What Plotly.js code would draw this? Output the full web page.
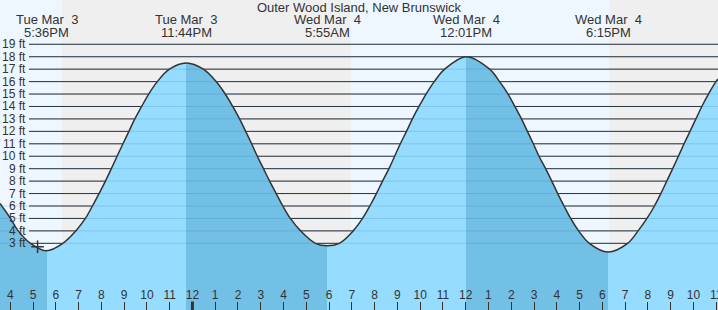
<!DOCTYPE html>
<html><head><meta charset="utf-8">
<script src="https://cdn.plot.ly/plotly-3.0.1.min.js"></script>
<style>html,body{margin:0;padding:0;background:#fff}#chart{width:718px;height:310px}</style>
</head><body><div id="chart"></div>
<script>
// ---- data (hours counted from Tue Mar 3, 00:00) ----
const titleText = 'Outer Wood Island, New Brunswick';
const tideTimes = [15.55, 16.01, 16.35, 16.89, 17.60, 18.31, 18.88, 19.30, 19.61, 19.90, 20.18, 20.44, 20.69, 20.95, 21.21, 21.47, 21.77, 22.08, 22.46, 22.99, 23.73,
  24.48, 25.04, 25.44, 25.77, 26.07, 26.34, 26.60, 26.85, 27.12, 27.39, 27.68, 27.97, 28.30, 28.75, 29.40, 29.92,
  30.45, 31.06, 31.47, 31.79, 32.08, 32.35, 32.63, 32.88, 33.13, 33.40, 33.66, 33.95, 34.26, 34.62, 35.08, 36.02,
  37.05, 37.49, 37.86, 38.16, 38.45, 38.71, 38.97, 39.22, 39.51, 39.78, 40.04, 40.32, 40.61, 40.96, 41.43, 42.25,
  43.11, 43.57, 43.96, 44.29, 44.57, 44.83, 45.09, 45.34, 45.59, 45.85, 46.11, 46.37, 46.66, 46.99, 47.08];
const tideLevels = [6.2, 5, 4, 3, 2.4, 3, 4, 5, 6, 7, 8, 9, 10, 11, 12, 13, 14, 15, 16, 17, 17.5,
  17, 16, 15, 14, 13, 12, 11, 10, 9, 8, 7, 6, 5, 4, 3, 2.8,
  3, 4, 5, 6, 7, 8, 9, 10, 11, 12, 13, 14, 15, 16, 17, 18.0,
  17, 16, 15, 14, 13, 12, 11, 10, 9, 8, 7, 6, 5, 4, 3, 2.3,
  3, 4, 5, 6, 7, 8, 9, 10, 11, 12, 13, 14, 15, 16, 16.2];
const extremeTimes = [17.60, 23.73, 29.92, 36.02, 42.25];
const extremeKinds = ['low', 'high', 'low', 'high', 'low'];
const extremeDays = ['Tue Mar\u00a0 3', 'Tue Mar\u00a0 3', 'Wed Mar\u00a0 4', 'Wed Mar\u00a0 4', 'Wed Mar\u00a0 4'];
const extremeClock = ['5:36PM', '11:44PM', '5:55AM', '12:01PM', '6:15PM'];
const nightStarts = [18.27, 42.31];
const nightEnds = [30.96, 47.08];
const hourTicks = [16,17,18,19,20,21,22,23,24,25,26,27,28,29,30,31,32,33,34,35,36,37,38,39,40,41,42,43,44,45,46,47];
const hourLabels = ['4','5','6','7','8','9','10','11','12','1','2','3','4','5','6','7','8','9','10','11','12','1','2','3','4','5','6','7','8','9','10','11'];
const midnightTicks = [24];
const levelTicks = [3,4,5,6,7,8,9,10,11,12,13,14,15,16,17,18,19];
const levelLabels = ['3 ft','4 ft','5 ft','6 ft','7 ft','8 ft','9 ft','10 ft','11 ft','12 ft','13 ft','14 ft','15 ft','16 ft','17 ft','18 ft','19 ft'];
const nowTime = [17.2];
const nowLevel = [2.73];

// ---- style ----
const xMin = 15.55, xMax = 47.08;
const yMin = -2.36, yMax = 22.56;
const FONT = 'Liberation Sans, Arial, sans-serif';
const TXT = '#333';
const DAY = '#EEF7FF', NIGHT = '#EFEFEF';
const RISE = '#96DCFF', FALL = '#72C0E6';

// horizontal gradient with hard stops at each extreme
const cs = [];
let cur = extremeKinds[0] === 'low' ? FALL : RISE;
cs.push([0, cur]);
extremeTimes.forEach((t, i) => {
  const f = (t - xMin) / (xMax - xMin);
  const next = extremeKinds[i] === 'low' ? RISE : FALL;
  cs.push([f, cur]); cs.push([f, next]);
  cur = next;
});
cs.push([1, cur]);

const traces = [
  {x: [xMin, xMax], y: [yMin - 5, yMin - 5], mode: 'lines', line: {width: 0}, hoverinfo: 'skip', showlegend: false},
  {x: tideTimes, y: tideLevels, mode: 'lines', fill: 'tonexty',
   fillgradient: {type: 'horizontal', colorscale: cs, start: xMin, stop: xMax},
   fillcolor: RISE,
   line: {shape: 'spline', smoothing: 1, color: '#333', width: 1.5}, hoverinfo: 'skip', showlegend: false},
  {x: nowTime, y: nowLevel, mode: 'markers', marker: {symbol: 'cross-thin', size: 9, line: {color: '#333', width: 1.5}}, hoverinfo: 'skip', showlegend: false}
];

const shapes = [];
nightStarts.forEach((s, i) => shapes.push({type: 'rect', layer: 'below', xref: 'x', yref: 'paper', x0: s, x1: nightEnds[i], y0: 0, y1: 1, fillcolor: NIGHT, line: {width: 0}}));
levelTicks.forEach(v => shapes.push({type: 'line', layer: 'below', xref: 'paper', yref: 'y', x0: 29 / 718, x1: 1, y0: v, y1: v, line: {color: '#2b2b2b', width: 1}}));
levelTicks.forEach(v => shapes.push({type: 'line', layer: 'above', xref: 'paper', yref: 'y', x0: v <= 6 ? 0 : 29 / 718, x1: 1, y0: v, y1: v, line: {color: 'rgba(40,110,160,0.2)', width: 1}}));
midnightTicks.forEach(t => shapes.push({type: 'line', layer: 'above', xref: 'x', yref: 'paper', x0: t, x1: t, y0: 0, y1: 8.5 / 310, line: {color: '#333', width: 3}}));

const annotations = [];
levelTicks.forEach((v, i) => annotations.push({xref: 'paper', yref: 'y', x: 27.5 / 718, y: v, xanchor: 'right', yanchor: 'middle', text: levelLabels[i], showarrow: false, font: {family: FONT, size: 12, color: TXT}}));
extremeTimes.forEach((t, i) => {
  annotations.push({xref: 'x', yref: 'paper', x: t, y: 1 - 20 / 310, xanchor: 'center', yanchor: 'middle', text: extremeDays[i], showarrow: false, font: {family: FONT, size: 13, color: TXT}});
  annotations.push({xref: 'x', yref: 'paper', x: t, y: 1 - 32.3 / 310, xanchor: 'center', yanchor: 'middle', text: extremeClock[i], showarrow: false, font: {family: FONT, size: 13, color: TXT}});
});

const layout = {
  width: 718, height: 310,
  margin: {l: 0, r: 0, t: 0, b: 0, pad: 0},
  paper_bgcolor: DAY, plot_bgcolor: DAY,
  font: {family: FONT, color: TXT},
  title: {text: titleText, font: {family: FONT, size: 13, color: TXT}, x: 0.5, xanchor: 'center', xref: 'paper', y: 1 - 7.5 / 310, yanchor: 'middle', yref: 'container'},
  xaxis: {range: [xMin, xMax], tickmode: 'array', tickvals: hourTicks, ticktext: hourLabels, ticks: 'inside', ticklen: 8, tickwidth: 1, tickcolor: '#333',
    ticklabelposition: 'inside', ticklabeloverflow: 'allow', tickangle: 0, tickfont: {family: FONT, size: 12, color: TXT}, showgrid: false, zeroline: false, showline: false, fixedrange: true},
  yaxis: {range: [yMin, yMax], showticklabels: false, ticks: '', showgrid: false, zeroline: false, showline: false, fixedrange: true},
  shapes: shapes, annotations: annotations, showlegend: false
};

Plotly.newPlot('chart', traces, layout, {displayModeBar: false, staticPlot: true});
</script>
</body></html>
